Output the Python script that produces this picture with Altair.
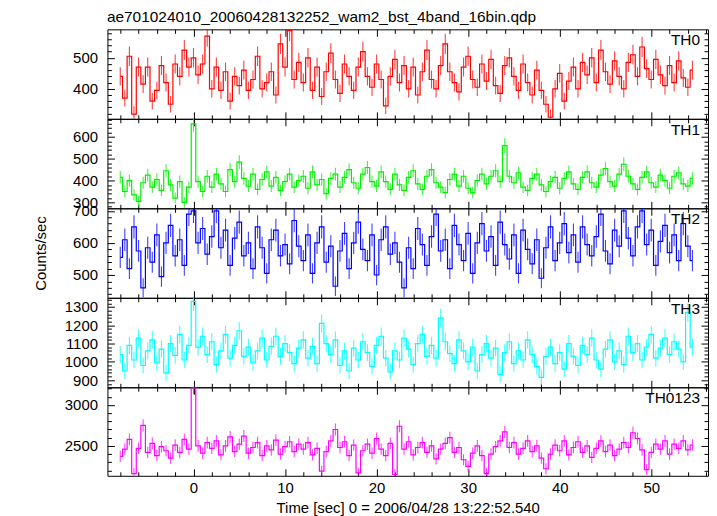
import math
import altair as alt
import pandas as pd

TITLE = "ae701024010_20060428132252_wam2_bst_4band_16bin.qdp"
X_TITLE = "Time [sec] 0 = 2006/04/28 13:22:52.540"
Y_TITLE = "Counts/sec"

BIN_WIDTH = 0.5          # seconds per bin
FIRST_BIN_CENTER = -8.0  # centre of the first bin
X_DOMAIN = [-9.4, 56.2]
X_MAJOR = [0, 10, 20, 30, 40, 50]
X_MINOR_STEP = 2

TH0 = [440, 370, 505, 318, 470, 415, 470, 360, 395, 475, 420, 350, 480, 440, 525, 470, 500, 445, 480, 570,
       400, 470, 395, 455, 360, 440, 410, 460, 395, 430, 505, 400, 420, 455, 380, 545, 470, 588, 430, 485,
       420, 500, 395, 470, 375, 455, 515, 430, 385, 480, 440, 395, 470, 520, 440, 405, 480, 430, 345, 440,
       495, 420, 475, 400, 470, 380, 455, 525, 430, 400, 475, 545, 455, 420, 390, 470, 505, 430, 405, 480,
       425, 495, 410, 385, 475, 500, 440, 395, 480, 420, 380, 460, 395, 350, 308, 400, 450, 360, 425, 470,
       400, 485, 445, 500, 420, 525, 455, 415, 490, 440, 400, 485, 510, 440, 535, 465, 430, 495, 445, 410,
       475, 420, 490, 435, 405, 460]

TH1 = [415, 350, 400, 335, 305, 390, 425, 370, 405, 355, 445, 380, 320, 395, 300, 370, 660, 395, 350, 420,
       370, 430, 385, 350, 450, 395, 485, 410, 375, 430, 360, 405, 440, 375, 415, 355, 395, 430, 370, 400,
       420, 365, 440, 380, 405, 340, 410, 430, 370, 415, 450, 390, 365, 430, 460, 395, 375, 440, 395, 360,
       430, 380, 355, 415, 445, 385, 360, 420, 450, 390, 370, 345, 405, 430, 375, 420, 365, 345, 400, 430,
       385, 420, 445, 395, 560, 420, 390, 435, 370, 355, 410, 430, 380, 350, 395, 415, 365, 410, 440, 385,
       360, 415, 440, 390, 370, 425, 455, 395, 375, 430, 475, 420, 385, 360, 415, 440, 390, 370, 425, 400,
       365, 420, 435, 385, 375, 410]

TH2 = [555, 610, 520, 650, 575, 460, 585, 540, 625, 495, 600, 655, 560, 610, 530, 690, 700, 600, 645, 565,
       620, 700, 585, 640, 530, 615, 665, 560, 600, 520, 650, 585, 505, 610, 640, 560, 595, 535, 670, 590,
       545, 625, 505, 600, 650, 540, 590, 465, 575, 630, 520, 600, 665, 580, 545, 625, 500, 610, 650, 565,
       600, 540, 460, 585, 520, 645, 595, 530, 620, 690, 575, 610, 520, 655, 595, 545, 630, 505, 600, 660,
       575, 620, 530, 665, 595, 550, 625, 505, 640, 580, 535, 610, 490, 585, 650, 545, 600, 660, 570, 625,
       540, 650, 595, 560, 620, 690, 575, 535, 640, 590, 700, 615, 560, 650, 700, 595, 640, 530, 605, 655,
       570, 625, 545, 660, 590, 545]

TH3 = [1040, 950, 1090, 1010, 1130, 980, 1060, 1120, 995, 1070, 940, 1100, 1035, 1150, 1010, 1090, 1330, 1080, 1140, 1040,
       1110, 985, 1060, 1150, 1020, 1090, 1170, 1030, 1080, 995, 1060, 1130, 1010, 1085, 1140, 1030, 1100, 1050, 990, 1075,
       1120, 1020, 1085, 990, 1210, 1100, 1040, 1120, 980, 1060, 950, 1075, 1010, 1110, 1050, 975, 1090, 1140, 1020, 945,
       1060, 1010, 1130, 1070, 985, 1100, 1150, 1030, 1090, 1020, 1240, 1110, 1045, 990, 1120, 1060, 1000, 1080, 950, 1040,
       1100, 1020, 1075, 930, 1050, 1110, 990, 1060, 1010, 1120, 1040, 975, 915, 1030, 1080, 990, 1050, 960, 1100, 1030,
       980, 1090, 1040, 1130, 1010, 960, 1070, 1120, 1000, 1060, 985, 1140, 1050, 1100, 1010, 1080, 1150, 1020, 1075, 1130,
       1040, 1110, 1070, 1000, 1270, 1080]

TH0123 = [2370, 2460, 2580, 2160, 2470, 2750, 2420, 2530, 2380, 2490, 2440, 2350, 2510, 2420, 2580, 2460, 3210, 2500, 2410, 2540,
          2470, 2560, 2390, 2500, 2610, 2430, 2520, 2620, 2410, 2480, 2540, 2380, 2500, 2450, 2570, 2400, 2490, 2550, 2430, 2520,
          2460, 2540, 2390, 2470, 2190, 2430, 2560, 2700, 2480, 2550, 2380, 2510, 2170, 2440, 2520, 2410, 2590, 2460, 2380, 2530,
          2150, 2740, 2460, 2550, 2390, 2480, 2540, 2420, 2500, 2340, 2460, 2530, 2600, 2420, 2480, 2330, 2250, 2410, 2500, 2380,
          2160, 2400, 2490, 2560, 2670, 2480, 2540, 2400, 2470, 2560, 2430, 2500, 2350, 2220, 2400, 2510, 2440, 2560, 2390, 2480,
          2550, 2420, 2500, 2360, 2470, 2560, 2430, 2510, 2380, 2460, 2540, 2480, 2660, 2590, 2450, 2210, 2420, 2520, 2460, 2560,
          2400, 2520, 2470, 2560, 2450, 2510]

# name, values, colour, y-domain, labelled y ticks, minor tick step, panel height
PANELS = [
    ("TH0", TH0, "#ff0000", [303, 592], [400, 500], 20, 90),
    ("TH1", TH1, "#00ee00", [273, 683], [300, 400, 500, 600], 20, 90),
    ("TH2", TH2, "#0000ff", [429, 708], [500, 600, 700], 20, 90),
    ("TH3", TH3, "#00ffff", [861, 1350], [900, 1000, 1100, 1200, 1300], 20, 90),
    ("TH0123", TH0123, "#ff00ff", [2134, 3216], [2500, 3000], 100, 89),
]

W = 604
FONT = "Liberation Sans"
MAJOR = 7
MINOR = 4


def minor_values(lo, hi, step, majors):
    start = math.ceil(lo / step) * step
    out = []
    v = start
    while v <= hi:
        if v not in majors:
            out.append(v)
        v += step
    return out


X_MINOR = minor_values(X_DOMAIN[0], X_DOMAIN[1], X_MINOR_STEP, X_MAJOR)


def ax(orient, values, size, labels=False, title=None, label_pad=9, title_pad=4):
    kw = dict(orient=orient, values=values, tickSize=size, offset=-size, domain=False,
              grid=False, labels=labels, ticks=True, tickColor="black", tickWidth=1,
              labelFlush=False, labelOverlap=False, labelPadding=label_pad, format="d",
              labelFont=FONT, labelFontSize=15, labelColor="black",
              minExtent=0)
    if not labels:
        kw.update(maxExtent=0)
    if title is not None:
        kw.update(title=title, titleFont=FONT, titleFontSize=15, titleFontWeight="normal",
                  titleColor="black", titlePadding=title_pad)
    else:
        kw.update(title=None)
    return alt.Axis(**kw)


def panel(idx, name, values, color, ydom, majors, ystep, height):
    rows = []
    for i, v in enumerate(values):
        c = FIRST_BIN_CENTER + i * BIN_WIDTH
        e = math.sqrt(v / BIN_WIDTH)
        rows.append({"t": c, "v": v, "lo": v - e, "hi": v + e})
    df = pd.DataFrame(rows)
    base = alt.Chart(df)
    xs = alt.Scale(domain=X_DOMAIN, nice=False, zero=False, clamp=True)
    ys = alt.Scale(domain=ydom, nice=False, zero=False, clamp=True)
    ymin = minor_values(ydom[0], ydom[1], ystep, majors)
    last = idx == len(PANELS) - 1
    mid = idx == 2

    steps = base.mark_line(color=color, strokeWidth=1.2, interpolate="step", clip=True).encode(
        x=alt.X("t:Q", scale=xs, axis=ax("bottom", X_MAJOR, MAJOR, labels=last,
                                         title=X_TITLE if last else None, label_pad=5, title_pad=5)),
        y=alt.Y("v:Q", scale=ys, axis=ax("left", majors, MAJOR, labels=True,
                                         title=Y_TITLE if mid else None, label_pad=10, title_pad=24)),
    )
    errs = base.mark_rule(color=color, strokeWidth=1.1, opacity=0.75, clip=True).encode(
        x=alt.X("t:Q", scale=xs, axis=ax("bottom", X_MINOR, MINOR)),
        y=alt.Y("lo:Q", scale=ys, axis=ax("left", ymin, MINOR)),
        y2="hi:Q",
    )
    top_major = base.mark_point(opacity=0, size=1, clip=True).encode(
        x=alt.X("t:Q", scale=xs, axis=ax("top", X_MAJOR, MAJOR)),
        y=alt.Y("v:Q", scale=ys, axis=ax("right", majors, MAJOR)),
    )
    top_minor = base.mark_point(opacity=0, size=1, clip=True).encode(
        x=alt.X("t:Q", scale=xs, axis=ax("top", X_MINOR, MINOR)),
        y=alt.Y("v:Q", scale=ys, axis=ax("right", ymin, MINOR)),
    )
    label = alt.Chart(pd.DataFrame({"name": [name]})).mark_text(
        align="right", baseline="alphabetic", font=FONT, fontSize=15.5, color="black"
    ).encode(text="name:N", x=alt.value(W - 8), y=alt.value(16))

    return alt.layer(steps, errs, top_major, top_minor, label).resolve_axis(
        x="independent", y="independent"
    ).properties(width=W, height=height)


charts = [panel(i, *p) for i, p in enumerate(PANELS)]

chart = alt.vconcat(*charts, spacing=0, bounds="flush").properties(
    title=alt.TitleParams(TITLE, anchor="start", font=FONT, fontSize=15.5,
                          fontWeight="normal", color="black", offset=3, dx=74),
    padding={"left": 25, "top": 0, "right": 0, "bottom": 0},
).configure_view(stroke="black", strokeWidth=1)

chart.save("out.html", embed_options={"renderer": "svg", "actions": False})
